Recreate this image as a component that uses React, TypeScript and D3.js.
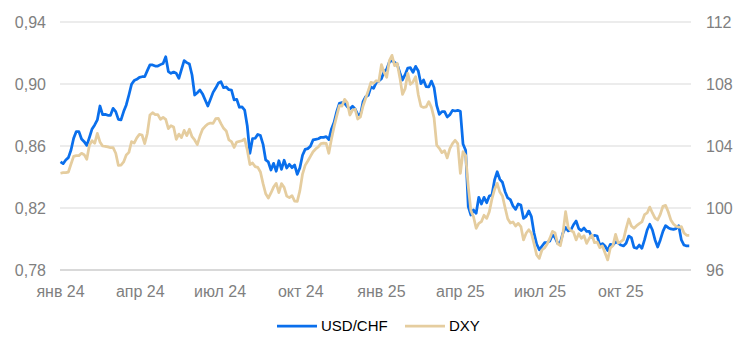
import { useEffect, useRef } from "react";
import * as d3 from "d3";

// observations every 3 calendar days from 1 Jan 2024
const startDate = new Date(2024, 0, 1);
const stepDays = 3;

const usdchf = [
  0.8497, 0.8486, 0.8510, 0.8525, 0.8574, 0.8650, 0.8693, 0.8693, 0.8645, 0.8628,
  0.8604, 0.8656, 0.8710, 0.8736, 0.8768, 0.8858, 0.8802, 0.8804, 0.8798, 0.8798,
  0.8843, 0.8822, 0.8772, 0.8768, 0.8822, 0.8865, 0.8929, 0.8998, 0.9022, 0.9030,
  0.9043, 0.9047, 0.9047, 0.9086, 0.9123, 0.9123, 0.9116, 0.9116, 0.9125, 0.9133,
  0.9176, 0.9080, 0.9069, 0.9077, 0.9069, 0.9037, 0.9095, 0.9151, 0.9138, 0.9129,
  0.9058, 0.8929, 0.8944, 0.8961, 0.8936, 0.8897, 0.8858, 0.8901, 0.8946, 0.8974,
  0.9006, 0.9015, 0.8976, 0.8981, 0.8963, 0.8961, 0.8897, 0.8901, 0.8850, 0.8852,
  0.8832, 0.8729, 0.8553, 0.8647, 0.8650, 0.8675, 0.8667, 0.8611, 0.8510, 0.8497,
  0.8445, 0.8488, 0.8437, 0.8505, 0.8449, 0.8508, 0.8458, 0.8482, 0.8460, 0.8477,
  0.8417, 0.8460, 0.8540, 0.8578, 0.8583, 0.8598, 0.8639, 0.8643, 0.8647, 0.8656,
  0.8656, 0.8660, 0.8641, 0.8710, 0.8753, 0.8822, 0.8875, 0.8880, 0.8875, 0.8854,
  0.8839, 0.8856, 0.8839, 0.8802, 0.8800, 0.8886, 0.8918, 0.8927, 0.8981, 0.8972,
  0.9009, 0.9019, 0.9034, 0.9080, 0.9095, 0.9142, 0.9151, 0.9140, 0.9127, 0.9073,
  0.9026, 0.9060, 0.9103, 0.9105, 0.9075, 0.9114, 0.9084, 0.9002, 0.9026, 0.8983,
  0.8981, 0.9019, 0.8978, 0.8862, 0.8804, 0.8822, 0.8822, 0.8787, 0.8802, 0.8830,
  0.8826, 0.8830, 0.8824, 0.8613, 0.8572, 0.8209, 0.8155, 0.8187, 0.8166, 0.8269,
  0.8226, 0.8269, 0.8234, 0.8277, 0.8284, 0.8381, 0.8434, 0.8385, 0.8366, 0.8305,
  0.8265, 0.8254, 0.8213, 0.8191, 0.8226, 0.8219, 0.8133, 0.8146, 0.8181,
  0.8144, 0.8039, 0.7968, 0.7931, 0.7953, 0.7976, 0.7978, 0.7987, 0.8026, 0.8009,
  0.7972, 0.7976, 0.8039, 0.8075, 0.8052, 0.8058, 0.8092, 0.8116, 0.8067, 0.8054,
  0.8071, 0.8049, 0.8049, 0.8013, 0.8024, 0.8019, 0.7961, 0.7970, 0.7955, 0.7925,
  0.7966, 0.7963, 0.7981, 0.7974, 0.7961, 0.7955, 0.7972, 0.8019, 0.8009, 0.7946,
  0.7940, 0.7961, 0.7940, 0.7994, 0.8058, 0.8095, 0.8058, 0.7994, 0.7948, 0.7994,
  0.8049, 0.8086, 0.8073, 0.8065, 0.8062, 0.8067, 0.8086, 0.7994, 0.7961, 0.7955, 0.7955,
];

const dxy = [
  102.24, 102.28, 102.28, 102.32, 102.84, 103.33, 103.38, 103.38, 103.53, 103.44,
  103.14, 104.06, 104.34, 104.17, 104.82, 104.26, 104.00, 103.98, 103.94, 103.89,
  103.89, 103.53, 102.75, 102.77, 102.97, 103.42, 103.59, 104.28, 104.19, 104.52,
  104.75, 104.71, 104.15, 104.82, 106.00, 106.15, 106.02, 106.02, 105.72, 105.85,
  105.72, 105.12, 105.31, 105.23, 104.43, 104.77, 104.54, 105.01, 104.67, 105.08,
  104.60, 104.39, 104.09, 104.64, 105.08, 105.27, 105.42, 105.48, 105.46, 105.76,
  105.78, 105.44, 105.14, 104.97, 104.39, 104.28, 103.91, 104.26, 104.30, 104.34,
  104.45, 103.74, 102.80, 102.90, 102.67, 102.62, 102.32, 101.57, 100.92, 100.64,
  100.97, 101.35, 101.59, 100.99, 101.57, 101.33, 100.77, 100.67, 100.80, 100.45,
  100.43, 101.12, 102.19, 102.75, 103.03, 103.33, 103.63, 103.81, 103.94, 104.15,
  104.19, 104.17, 103.53, 104.45, 105.25, 105.94, 106.60, 106.58, 107.01, 106.80,
  106.00, 106.32, 106.37, 105.74, 105.87, 106.58, 107.08, 107.57, 108.11, 108.04,
  108.21, 108.17, 109.25, 108.75, 108.43, 109.51, 109.85, 109.18, 109.33, 108.41,
  107.33, 107.70, 108.69, 107.98, 108.13, 108.47, 107.31, 106.56, 106.49, 106.52,
  106.86, 106.49, 105.81, 104.06, 103.85, 103.57, 103.70, 103.23, 103.83, 104.15,
  104.37, 104.15, 102.24, 103.63, 103.38, 101.38, 99.83, 99.44, 98.69, 99.01,
  99.12, 99.53, 99.33, 99.76, 100.58, 101.20, 101.59, 101.03, 100.77, 100.02,
  99.31, 99.03, 99.10, 98.84, 99.01, 98.80, 97.94, 98.37, 98.60,
  98.37, 97.70, 96.97, 96.75, 97.29, 97.42, 97.68, 98.04, 98.49, 98.39,
  97.68, 97.57, 98.37, 99.76, 98.73, 98.54, 98.45, 97.94, 98.34, 98.04,
  98.21, 97.72, 98.04, 98.26, 97.76, 97.81, 97.44, 97.55, 97.10, 96.65,
  97.42, 97.57, 98.30, 97.74, 97.83, 97.96, 98.67, 99.29, 98.84, 98.69,
  98.86, 98.99, 99.10, 99.57, 99.68, 100.06, 99.68, 99.35, 99.23, 99.59,
  100.11, 100.17, 99.76, 99.23, 98.97, 98.82, 98.77, 98.80, 98.39, 98.24, 98.24,
];

const monthLabels = ["янв 24", "апр 24", "июл 24", "окт 24", "янв 25", "апр 25", "июл 25", "окт 25"];
const leftTicks = [0.78, 0.82, 0.86, 0.9, 0.94];
const rightTicks = [96, 100, 104, 108, 112];
const seriesNames = ["USD/CHF", "DXY"];

const BLUE = "#0a6fec";
const SAND = "#e5cd9f";
const FONT = "'Liberation Sans', Arial, sans-serif";

export default function App() {
  const ref = useRef(null);

  useEffect(() => {
    const svg = d3.select(ref.current);
    svg.selectAll("*").remove();

    const width = 746;
    const height = 355;
    const margin = { top: 22, right: 55, bottom: 85, left: 60 };

    const dates = usdchf.map((_, i) => d3.timeDay.offset(startDate, i * stepDays));

    const x = d3.scaleTime()
      .domain([startDate, new Date(2025, 11, 20)])
      .range([margin.left + 0.5, width - margin.right]);

    const yL = d3.scaleLinear().domain([0.78, 0.94]).range([height - margin.bottom, margin.top]);
    const yR = d3.scaleLinear().domain([96, 112]).range([height - margin.bottom, margin.top]);

    // gridlines
    svg.append("g")
      .selectAll("line")
      .data(leftTicks)
      .join("line")
      .attr("x1", margin.left)
      .attr("x2", width - margin.right)
      .attr("y1", d => yL(d))
      .attr("y2", d => yL(d))
      .attr("stroke", "#d9d9d9")
      .attr("stroke-width", d => (d === 0.78 ? 2 : 1));

    // left axis labels
    svg.append("g")
      .selectAll("text")
      .data(leftTicks)
      .join("text")
      .attr("x", 46)
      .attr("y", d => yL(d))
      .attr("dy", "0.36em")
      .attr("text-anchor", "end")
      .attr("font-family", FONT)
      .attr("font-size", 16)
      .attr("fill", "#7f7f7f")
      .text(d => d3.format(".2f")(d).replace(".", ","));

    // right axis labels
    svg.append("g")
      .selectAll("text")
      .data(rightTicks)
      .join("text")
      .attr("x", 706)
      .attr("y", d => yR(d))
      .attr("dy", "0.36em")
      .attr("font-family", FONT)
      .attr("font-size", 16)
      .attr("fill", "#7f7f7f")
      .text(d => d);

    // month labels
    const tickDates = d3.timeMonth.every(3).range(startDate, new Date(2025, 11, 1));
    svg.append("g")
      .selectAll("text")
      .data(tickDates)
      .join("text")
      .attr("x", d => x(d))
      .attr("y", 297)
      .attr("text-anchor", "middle")
      .attr("font-family", FONT)
      .attr("font-size", 16)
      .attr("fill", "#7f7f7f")
      .text((d, i) => monthLabels[i]);

    const lineL = d3.line().x((d, i) => x(dates[i])).y(d => yL(d));
    const lineR = d3.line().x((d, i) => x(dates[i])).y(d => yR(d));

    svg.append("path")
      .datum(usdchf)
      .attr("d", lineL)
      .attr("fill", "none")
      .attr("stroke", BLUE)
      .attr("stroke-width", 2.75)
      .attr("stroke-linejoin", "round");

    svg.append("path")
      .datum(dxy)
      .attr("d", lineR)
      .attr("fill", "none")
      .attr("stroke", SAND)
      .attr("stroke-width", 2.75)
      .attr("stroke-linejoin", "round");

    // legend
    const legend = svg.append("g").attr("transform", "translate(277,326)");
    const items = [
      { name: seriesNames[0], color: BLUE, x: 0 },
      { name: seriesNames[1], color: SAND, x: 128 },
    ];
    items.forEach(it => {
      legend.append("line")
        .attr("x1", it.x)
        .attr("x2", it.x + 40)
        .attr("stroke", it.color)
        .attr("stroke-width", 2.75);
      legend.append("text")
        .attr("x", it.x + 44)
        .attr("dy", "0.36em")
        .attr("font-family", FONT)
        .attr("font-size", 15)
        .attr("fill", "#000")
        .text(it.name);
    });
  }, []);

  return (
    <svg
      ref={ref}
      width={746}
      height={355}
      style={{ position: "absolute", left: 0, top: 0, background: "#fff" }}
    />
  );
}
